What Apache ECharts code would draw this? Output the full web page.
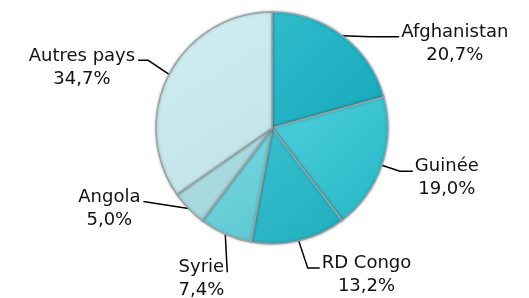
<!DOCTYPE html>
<html>
<head>
<meta charset="utf-8">
<script src="https://cdn.jsdelivr.net/npm/echarts@6/dist/echarts.min.js"></script>
<style>
  html, body { margin: 0; padding: 0; background: #fff; }
  #chart { width: 529px; height: 298px; }
</style>
</head>
<body>
<div id="chart"></div>
<script>
// données (pourcentages)
var countries = ['Afghanistan', 'Guinée', 'RD Congo', 'Syrie', 'Angola', 'Autres pays'];
var shares = [20.7, 19.0, 13.2, 7.4, 5.0, 34.7];
var colorsLight = ['#2fbccd', '#4fd0dc', '#38bfcd', '#7cd9e1', '#b3e0e4', '#d3eef1'];
var colorsDark = ['#16a8ba', '#25b6c5', '#22aebf', '#5cc7d1', '#9dd2d8', '#bde2e6'];

// leader line: first segment, second (horizontal) segment, text side
var leaders = [
  { d1: [28, 1], d2: 29, side: 'left' },
  { d1: [18, 6], d2: 13, side: 'left' },
  { d1: [9, 27], d2: 12, side: 'left' },
  { d1: [2, 38], d2: 0, side: 'right' },
  { d1: [-45, -7], d2: 0, side: 'right' },
  { d1: [-21, -14], d2: -10, side: 'right' }
];

function fmt(v) {
  return v.toFixed(1).replace('.', ',') + '%';
}

var data = [];
for (var i = 0; i < countries.length; i++) {
  data.push({
    name: countries[i],
    value: shares[i],
    itemStyle: {
      color: {
        type: 'linear', x: 0, y: 0, x2: 1, y2: 1,
        colorStops: [
          { offset: 0, color: colorsLight[i] },
          { offset: 1, color: colorsDark[i] }
        ]
      }
    }
  });
}

var chart = echarts.init(document.getElementById('chart'));
chart.setOption({
  animation: false,
  series: [{
    type: 'pie',
    center: [272, 128],
    radius: 116,
    startAngle: 90,
    clockwise: true,
    avoidLabelOverlap: false,
    itemStyle: {
      borderColor: '#9aa3a6',
      borderWidth: 1.5,
      shadowBlur: 3,
      shadowColor: 'rgba(0,0,0,0.25)'
    },
    label: {
      show: true,
      position: 'outside',
      formatter: function (p) {
        return '{t|' + p.name + '}\n{t|' + fmt(p.value) + '}';
      },
      rich: {
        t: {
          fontFamily: 'DejaVu Sans',
          fontSize: 18,
          lineHeight: 23,
          color: '#111',
          align: 'center'
        }
      }
    },
    labelLine: {
      show: true,
      lineStyle: { color: '#000', width: 1.5 }
    },
    labelLayout: function (params) {
      var l = leaders[params.dataIndex];
      var s = params.labelLinePoints[0];
      var p1 = [s[0] + l.d1[0], s[1] + l.d1[1]];
      var p2 = [p1[0] + l.d2, p1[1]];
      return {
        x: l.side === 'left' ? p2[0] + 2 : p2[0] - 3,
        y: p2[1] + 7,
        align: l.side,
        verticalAlign: 'middle',
        labelLinePoints: [s, p1, p2]
      };
    },
    data: data
  }]
});
</script>
</body>
</html>
